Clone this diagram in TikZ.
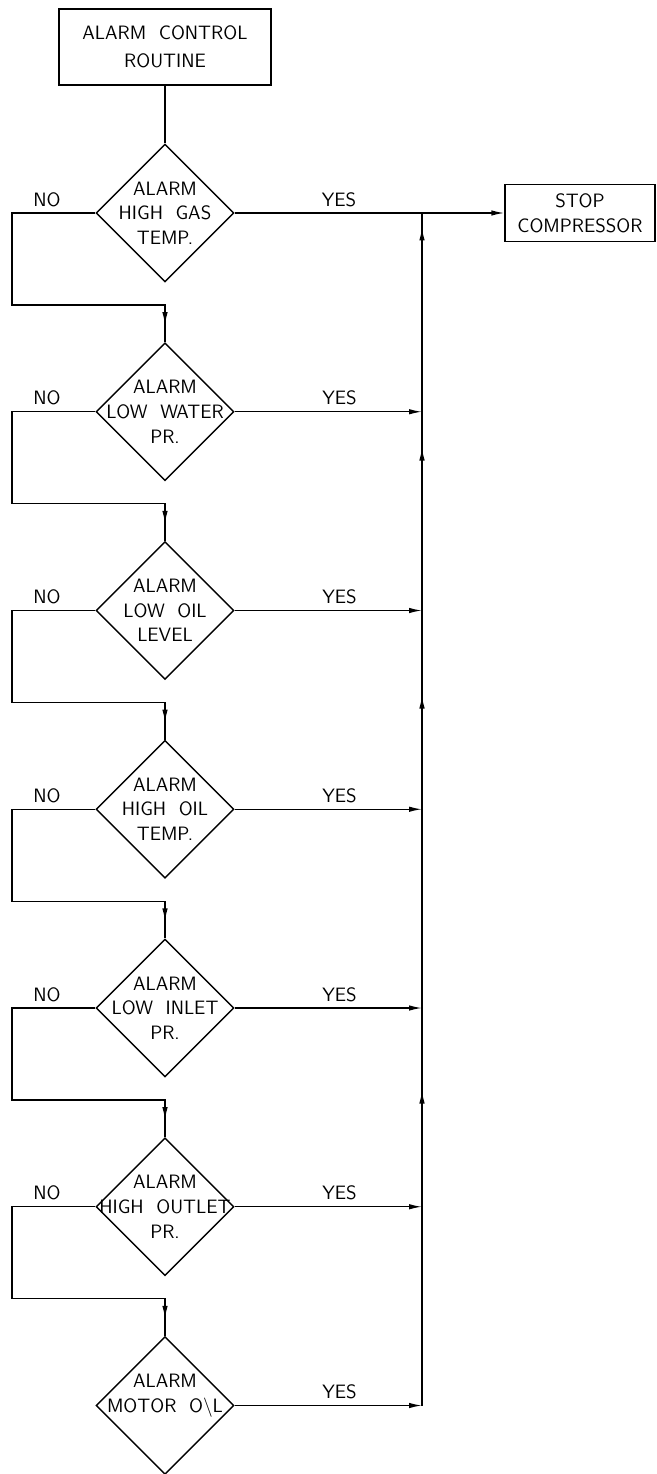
\documentclass[tikz,border=0pt]{standalone}
\usepackage{tikz}
\usetikzlibrary{shapes.geometric, arrows.meta, decorations.markings}

\tikzset{
	procbox/.style={draw, rectangle, line width=0.8pt, inner sep=0pt, align=center},
	check/.style={draw, diamond, line width=0.8pt, inner sep=0pt, minimum width=2.76cm, minimum height=2.76cm},
	lbl/.style={font=\sffamily\fontsize{11}{14}\selectfont},
	link/.style={line width=0.8pt},
	yesarrow/.style={-{Latex[length=2.6mm,width=1.1mm]}},
	midtip/.style={postaction={decorate}, decoration={markings, mark=at position #1 with {\arrow{Latex[length=2.6mm,width=1.1mm]}}}}
}

\begin{document}
\begin{tikzpicture}
	\useasboundingbox (0,0) rectangle (13.14,-29.48);
	
	\node[procbox, lbl, minimum width=4.24cm, minimum height=1.52cm](start) at (3.3,-0.94){ALARM\ \ CONTROL\\[2pt]ROUTINE};
	\node[procbox, lbl, minimum width=3.0cm, minimum height=1.14cm](stop) at (11.6,-4.26){STOP\\COMPRESSOR};
	
	\node[check, label={[lbl, align=center]center:{ALARM\\HIGH\ \ GAS\\TEMP.}}](hgas) at (3.3,-4.26){};
	\node[check, label={[lbl, align=center]center:{ALARM\\LOW\ \ WATER\\PR.}}](lwater) at (3.3,-8.235){};
	\node[check, label={[lbl, align=center]center:{ALARM\\LOW\ \ OIL\\LEVEL}}](loil) at (3.3,-12.21){};
	\node[check, label={[lbl, align=center]center:{ALARM\\HIGH\ \ OIL\\TEMP.}}](hoil) at (3.3,-16.185){};
	\node[check, label={[lbl, align=center]center:{ALARM\\LOW\ \ INLET\\PR.}}](linlet) at (3.3,-20.16){};
	\node[check, label={[lbl, align=center]center:{ALARM\\HIGH\ \ OUTLET\\PR.}}](houtlet) at (3.3,-24.135){};
	\node[check, label={[lbl, align=center, yshift=0.2cm]center:{ALARM\\MOTOR\ \ O\textbackslash L}}](motor) at (3.3,-28.11){};
	
	% left rail, return bus and the corners of the NO loops
	\coordinate(rail) at (0.24,0);
	\coordinate(bus) at (8.44,-28.11);
	\coordinate(n1) at (3.3,-6.1);
	\coordinate(n2) at (3.3,-10.075);
	\coordinate(n3) at (3.3,-14.05);
	\coordinate(n4) at (3.3,-18.025);
	\coordinate(n5) at (3.3,-22.0);
	\coordinate(n6) at (3.3,-25.975);
	
	\draw[link] (start)--(hgas);
	
	\draw[link, midtip=-0.34cm] (hgas.west) -- node[lbl, above, pos=0.58](no1){NO} (hgas.west -| rail) |- (n1) -- (lwater.north);
	\draw[link, midtip=-0.34cm] (lwater.west) -- node[lbl, above, pos=0.58](no2){NO} (lwater.west -| rail) |- (n2) -- (loil.north);
	\draw[link, midtip=-0.34cm] (loil.west) -- node[lbl, above, pos=0.58](no3){NO} (loil.west -| rail) |- (n3) -- (hoil.north);
	\draw[link, midtip=-0.34cm] (hoil.west) -- node[lbl, above, pos=0.58](no4){NO} (hoil.west -| rail) |- (n4) -- (linlet.north);
	\draw[link, midtip=-0.34cm] (linlet.west) -- node[lbl, above, pos=0.58](no5){NO} (linlet.west -| rail) |- (n5) -- (houtlet.north);
	\draw[link, midtip=-0.34cm] (houtlet.west) -- node[lbl, above, pos=0.58](no6){NO} (houtlet.west -| rail) |- (n6) -- (motor.north);
	
	\draw[link, yesarrow] (hgas.east) -- node[lbl, above, pos=0.387](yes1){YES} (stop);
	\draw[link, yesarrow] (lwater.east) -- node[lbl, above, pos=0.56](yes2){YES} (lwater.east -| bus);
	\draw[link, yesarrow] (loil.east) -- node[lbl, above, pos=0.56](yes3){YES} (loil.east -| bus);
	\draw[link, yesarrow] (hoil.east) -- node[lbl, above, pos=0.56](yes4){YES} (hoil.east -| bus);
	\draw[link, yesarrow] (linlet.east) -- node[lbl, above, pos=0.56](yes5){YES} (linlet.east -| bus);
	\draw[link, yesarrow] (houtlet.east) -- node[lbl, above, pos=0.56](yes6){YES} (houtlet.east -| bus);
	\draw[link, yesarrow] (motor.east) -- node[lbl, above, pos=0.56](yes7){YES} (bus);
	
	\draw[link, postaction={decorate}, decoration={markings,
		mark=at position 6.3cm with {\arrow{Latex[length=2.6mm,width=1.1mm]}},
		mark=at position 14.2cm with {\arrow{Latex[length=2.6mm,width=1.1mm]}},
		mark=at position 19.16cm with {\arrow{Latex[length=2.6mm,width=1.1mm]}},
		mark=at position 23.56cm with {\arrow{Latex[length=2.6mm,width=1.1mm]}}}]
		(bus) -- (bus |- hgas.east);
\end{tikzpicture}
\end{document}
